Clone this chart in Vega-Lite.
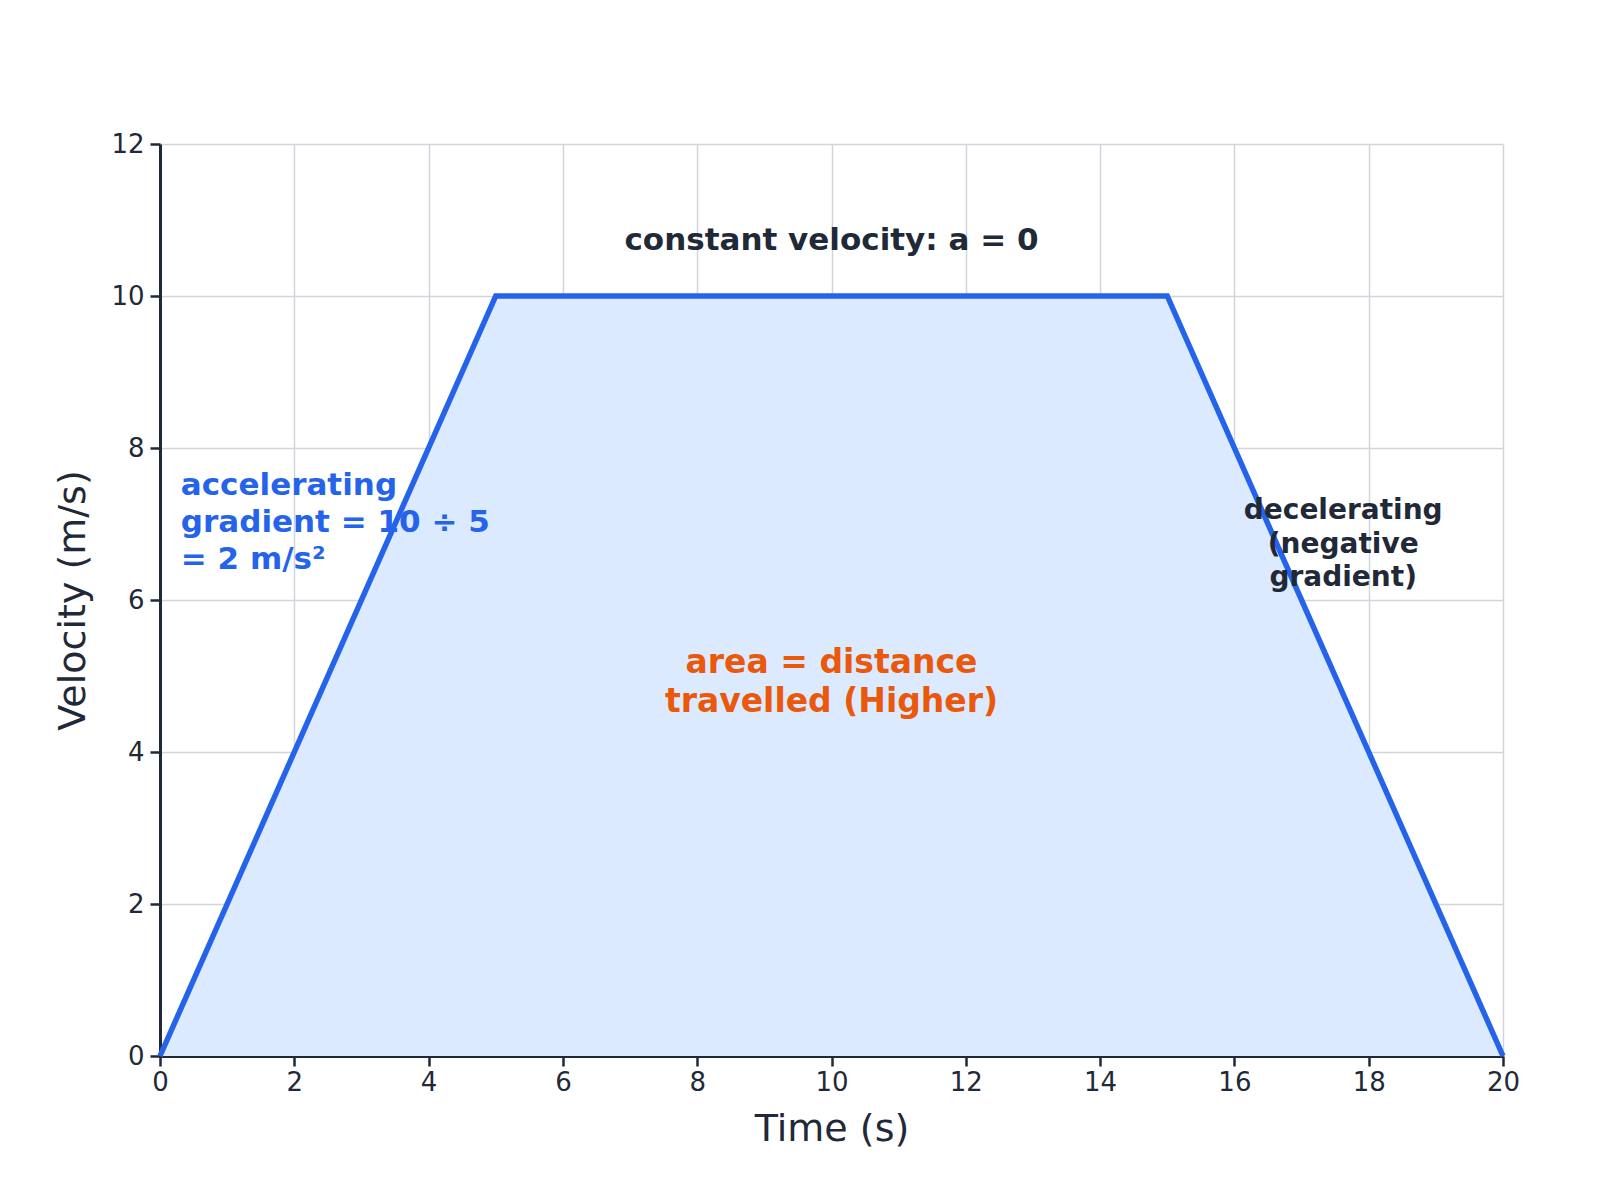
{
  "$schema": "https://vega.github.io/schema/vega-lite/v6.json",
  "width": 1343,
  "height": 912,
  "autosize": {"type": "none"},
  "padding": {"left": 160, "top": 144, "right": 97, "bottom": 144},
  "background": "white",
  "config": {
    "font": "DejaVu Sans",
    "view": {"stroke": null},
    "axis": {
      "gridColor": "#d1d5db",
      "gridWidth": 1.5,
      "domainColor": "#1f2937",
      "domainWidth": 3,
      "tickColor": "#1f2937",
      "tickWidth": 2.5,
      "tickSize": 10,
      "labelColor": "#1f2937",
      "labelFontSize": 26,
      "labelFont": "DejaVu Sans",
      "labelFlush": false,
      "labelOverlap": false,
      "titleColor": "#1f2937",
      "titleFontSize": 38,
      "titleFontWeight": "normal",
      "titleFont": "DejaVu Sans",
      "format": "d"
    }
  },
  "layer": [
    {
      "data": {"values": [
        {"t": 0, "v": 0},
        {"t": 5, "v": 10},
        {"t": 15, "v": 10},
        {"t": 20, "v": 0}
      ]},
      "layer": [
        {
          "mark": {"type": "area", "color": "#dbeafe", "opacity": 1},
          "encoding": {
            "x": {
              "field": "t", "type": "quantitative", "title": "Time (s)",
              "scale": {"domain": [0, 20], "nice": false},
              "axis": {"values": [0, 2, 4, 6, 8, 10, 12, 14, 16, 18, 20], "labelPadding": 3, "titlePadding": 15}
            },
            "y": {
              "field": "v", "type": "quantitative", "title": "Velocity (m/s)",
              "scale": {"domain": [0, 12], "nice": false},
              "axis": {"values": [0, 2, 4, 6, 8, 10, 12], "labelPadding": 6, "titlePadding": 18}
            }
          }
        },
        {
          "mark": {"type": "line", "color": "#2563eb", "strokeWidth": 5.5},
          "encoding": {
            "x": {"field": "t", "type": "quantitative"},
            "y": {"field": "v", "type": "quantitative"}
          }
        }
      ]
    },
    {
      "data": {"values": [
        {"x": 10, "y": 10.72, "label": "constant velocity: a = 0"}
      ]},
      "mark": {"type": "text", "fontSize": 31, "fontWeight": "bold", "color": "#1f2937", "align": "center", "baseline": "middle"},
      "encoding": {
        "x": {"field": "x", "type": "quantitative"},
        "y": {"field": "y", "type": "quantitative"},
        "text": {"field": "label"}
      }
    },
    {
      "data": {"values": [
        {"x": 0.31, "y": 7.5, "label": "accelerating\ngradient = 10 ÷ 5\n= 2 m/s²"}
      ]},
      "mark": {"type": "text", "fontSize": 31, "fontWeight": "bold", "color": "#2563eb", "align": "left", "baseline": "middle", "lineBreak": "\n", "lineHeight": 37},
      "encoding": {
        "x": {"field": "x", "type": "quantitative"},
        "y": {"field": "y", "type": "quantitative"},
        "text": {"field": "label"}
      }
    },
    {
      "data": {"values": [
        {"x": 10, "y": 5.17, "label": "area = distance\ntravelled (Higher)"}
      ]},
      "mark": {"type": "text", "fontSize": 33, "fontWeight": "bold", "color": "#ea580c", "align": "center", "baseline": "middle", "lineBreak": "\n", "lineHeight": 39},
      "encoding": {
        "x": {"field": "x", "type": "quantitative"},
        "y": {"field": "y", "type": "quantitative"},
        "text": {"field": "label"}
      }
    },
    {
      "data": {"values": [
        {"x": 17.62, "y": 7.17, "label": "decelerating\n(negative\ngradient)"}
      ]},
      "mark": {"type": "text", "fontSize": 28, "fontWeight": "bold", "color": "#1f2937", "align": "center", "baseline": "middle", "lineBreak": "\n", "lineHeight": 33.5},
      "encoding": {
        "x": {"field": "x", "type": "quantitative"},
        "y": {"field": "y", "type": "quantitative"},
        "text": {"field": "label"}
      }
    }
  ]
}
